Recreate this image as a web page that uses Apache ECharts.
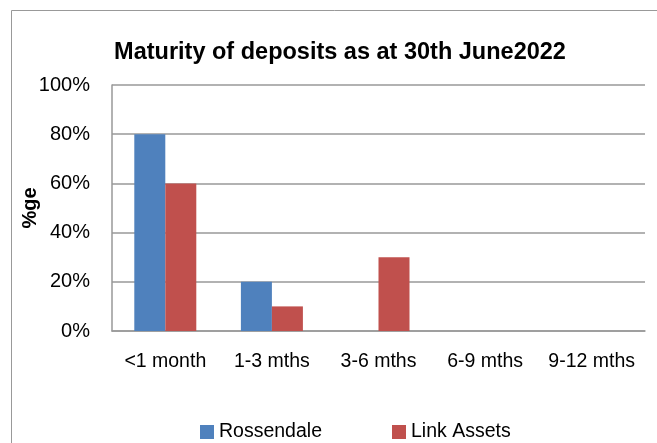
<!DOCTYPE html>
<html>
<head>
<meta charset="utf-8">
<script src="https://cdn.jsdelivr.net/npm/echarts@6/dist/echarts.min.js"></script>
<style>
  html, body { margin: 0; padding: 0; background: #fff; }
  #chart { width: 657px; height: 443px; }
</style>
</head>
<body>
<div id="chart"></div>
<script>
const categories = ['<1 month', '1-3 mths', '3-6 mths', '6-9 mths', '9-12 mths']
const rossendale = [80, 20, 0, 0, 0]
const linkAssets = [60, 10, 30, 0, 0]
const yTicks = [0, 20, 40, 60, 80, 100]

const fontFamily = "'Liberation Sans', sans-serif"
const myChart = echarts.init(document.getElementById('chart'))
myChart.setOption({
  animation: false,
  color: ['#4F81BD', '#C0504D'],
  textStyle: { fontFamily: fontFamily },
  graphic: [
    {
      type: 'rect',
      shape: { x: 11.5, y: 10.5, width: 700, height: 500 },
      style: { fill: 'none', stroke: '#999', lineWidth: 1 },
      silent: true,
    },
  ],
  title: {
    text: 'Maturity of deposits as at 30th June2022',
    left: 335,
    textAlign: 'center',
    top: 36,
    textStyle: { fontSize: 23.5, fontWeight: 'bold', color: '#000', fontFamily: fontFamily },
  },
  legend: {
    top: 417,
    left: 195,
    itemWidth: 14,
    itemHeight: 14,
    itemGap: 70,
    icon: 'rect',
    textStyle: { fontSize: 19.5, color: '#000' },
    data: ['Rossendale', 'Link Assets'],
  },
  grid: {
    left: 112,
    right: 12,
    top: 85,
    bottom: 112,
    containLabel: false,
  },
  xAxis: {
    type: 'category',
    data: categories,
    axisLine: { show: true, lineStyle: { color: '#999', width: 1.5 } },
    axisTick: { show: false },
    axisLabel: { interval: 0, fontSize: 19.5, color: '#000', margin: 21 },
  },
  yAxis: {
    type: 'value',
    min: 0,
    max: 100,
    interval: 20,
    name: '%ge',
    nameLocation: 'middle',
    nameGap: 72,
    nameMoveOverlap: false,
    nameRotate: 90,
    nameTextStyle: { fontSize: 20, fontWeight: 'bold', color: '#000' },
    axisLine: { show: true, lineStyle: { color: '#999', width: 1.5 } },
    axisTick: { show: false },
    axisLabel: {
      fontSize: 20,
      color: '#000',
      margin: 22,
      formatter: function (v) {
        return yTicks.indexOf(v) >= 0 ? v + '%' : ''
      },
    },
    splitLine: { show: true, lineStyle: { color: '#999', width: 1.5 } },
  },
  series: [
    {
      name: 'Rossendale',
      type: 'bar',
      barWidth: 31,
      barGap: 0,
      data: rossendale,
    },
    {
      name: 'Link Assets',
      type: 'bar',
      barWidth: 31,
      barGap: 0,
      data: linkAssets,
    },
  ],
})
window.addEventListener('resize', () => {
  myChart.resize()
})
</script>
</body>
</html>
